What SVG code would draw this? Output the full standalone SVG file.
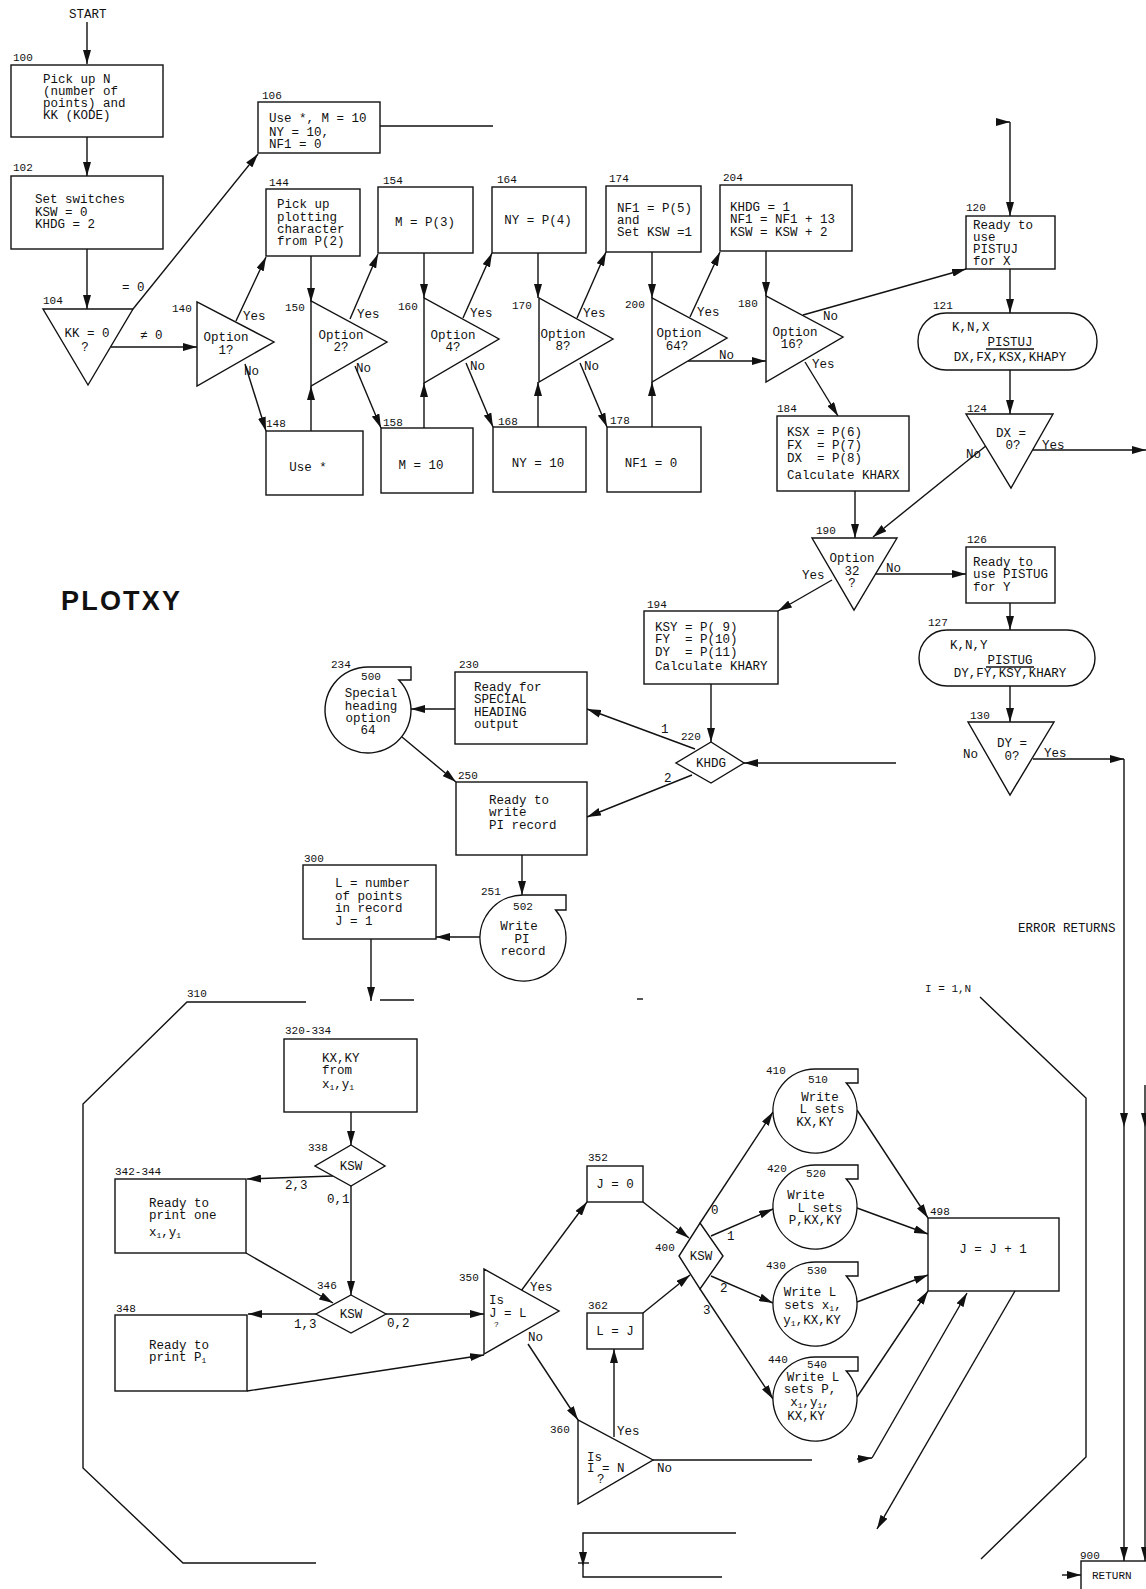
<svg xmlns="http://www.w3.org/2000/svg" width="1146" height="1589" viewBox="0 0 1146 1589">
<style>
.ln{stroke:#111;stroke-width:1.4;fill:none}
.sh{stroke:#111;stroke-width:1.4;fill:#fff}
.t{font-family:"Liberation Mono","DejaVu Sans Mono",monospace;font-size:12.5px;fill:#111;white-space:pre}
.lb{font-family:"Liberation Mono","DejaVu Sans Mono",monospace;font-size:11px;fill:#111}
.sm{font-family:"Liberation Mono","DejaVu Sans Mono",monospace;font-size:8px;fill:#111}
.c{text-anchor:middle}
.sub{font-size:8px}
.title{font-family:"Liberation Sans",Arial,sans-serif;font-size:27px;font-weight:bold;fill:#111}
</style>
<defs>
<marker id="a" viewBox="0 0 14 8" refX="14" refY="4" markerWidth="14" markerHeight="8" markerUnits="userSpaceOnUse" orient="auto">
<path d="M0,0 L14,4 L0,8 z" fill="#111"/>
</marker>
</defs>
<rect width="1146" height="1589" fill="#fff"/>

<text class="title" x="61" y="610" textLength="119" lengthAdjust="spacing">PLOTXY</text>
<text class="t" x="69" y="18">START</text>
<text class="t" x="1018" y="932">ERROR RETURNS</text>
<text class="lb" x="925" y="992">I = 1,N</text>

<g id="connectors" class="ln">
<line x1="87" y1="22" x2="87" y2="64" marker-end="url(#a)"/>
<line x1="87" y1="137" x2="87" y2="176" marker-end="url(#a)"/>
<line x1="87" y1="249" x2="87" y2="309" marker-end="url(#a)"/>
<line x1="133" y1="309" x2="258" y2="154" marker-end="url(#a)"/>
<line x1="111" y1="347" x2="197" y2="347" marker-end="url(#a)"/>
<line x1="380" y1="126" x2="493" y2="126"/>
<line x1="236" y1="321" x2="266" y2="257" marker-end="url(#a)"/>
<line x1="245" y1="364" x2="266" y2="431" marker-end="url(#a)"/>
<line x1="311" y1="256" x2="311" y2="302" marker-end="url(#a)"/>
<line x1="311" y1="431" x2="311" y2="386" marker-end="url(#a)"/>
<line x1="350" y1="319" x2="378" y2="254" marker-end="url(#a)"/>
<line x1="355" y1="366" x2="381" y2="428" marker-end="url(#a)"/>
<line x1="424" y1="253" x2="424" y2="298" marker-end="url(#a)"/>
<line x1="424" y1="428" x2="424" y2="383" marker-end="url(#a)"/>
<line x1="463" y1="318" x2="492" y2="253" marker-end="url(#a)"/>
<line x1="466" y1="363" x2="493" y2="427" marker-end="url(#a)"/>
<line x1="538" y1="253" x2="538" y2="298" marker-end="url(#a)"/>
<line x1="538" y1="427" x2="538" y2="382" marker-end="url(#a)"/>
<line x1="577" y1="318" x2="606" y2="252" marker-end="url(#a)"/>
<line x1="580" y1="363" x2="607" y2="427" marker-end="url(#a)"/>
<line x1="652" y1="252" x2="652" y2="298" marker-end="url(#a)"/>
<line x1="652" y1="427" x2="652" y2="382" marker-end="url(#a)"/>
<line x1="690" y1="317" x2="720" y2="252" marker-end="url(#a)"/>
<line x1="688" y1="361" x2="766" y2="361" marker-end="url(#a)"/>
<line x1="766" y1="251" x2="766" y2="296" marker-end="url(#a)"/>
<line x1="803" y1="315" x2="966" y2="269" marker-end="url(#a)"/>
<line x1="805" y1="362" x2="838" y2="416" marker-end="url(#a)"/>
<line x1="996" y1="122" x2="1010" y2="122" marker-end="url(#a)"/>
<line x1="1010" y1="122" x2="1010" y2="216" marker-end="url(#a)"/>
<line x1="1010" y1="269" x2="1010" y2="313" marker-end="url(#a)"/>
<line x1="1010" y1="370" x2="1010" y2="414" marker-end="url(#a)"/>
<line x1="1033" y1="450" x2="1146" y2="450" marker-end="url(#a)"/>
<line x1="987" y1="445" x2="873" y2="537" marker-end="url(#a)"/>
<line x1="855" y1="491" x2="855" y2="538" marker-end="url(#a)"/>
<line x1="875" y1="574" x2="966" y2="574" marker-end="url(#a)"/>
<line x1="832" y1="580" x2="778" y2="611" marker-end="url(#a)"/>
<line x1="1010" y1="603" x2="1010" y2="630" marker-end="url(#a)"/>
<line x1="1010" y1="686" x2="1010" y2="722" marker-end="url(#a)"/>
<line x1="1033" y1="759" x2="1124" y2="759" marker-end="url(#a)"/>
<line x1="1124" y1="759" x2="1124" y2="1127" marker-end="url(#a)"/>
<line x1="1124" y1="1127" x2="1124" y2="1561" marker-end="url(#a)"/>
<line x1="1145" y1="1085" x2="1145" y2="1127" marker-end="url(#a)"/>
<line x1="1145" y1="1127" x2="1145" y2="1561" marker-end="url(#a)"/>
<line x1="711" y1="684" x2="711" y2="742" marker-end="url(#a)"/>
<line x1="695" y1="749" x2="587" y2="709" marker-end="url(#a)"/>
<line x1="692" y1="775" x2="587" y2="817" marker-end="url(#a)"/>
<line x1="896" y1="763" x2="744" y2="763" marker-end="url(#a)"/>
<line x1="455" y1="709" x2="411" y2="709" marker-end="url(#a)"/>
<line x1="402" y1="737" x2="456" y2="782" marker-end="url(#a)"/>
<line x1="522" y1="855" x2="522" y2="895" marker-end="url(#a)"/>
<line x1="480" y1="937" x2="436" y2="937" marker-end="url(#a)"/>
<line x1="371" y1="939" x2="371" y2="1001" marker-end="url(#a)"/>
<line x1="351" y1="1112" x2="351" y2="1145" marker-end="url(#a)"/>
<line x1="333" y1="1176" x2="247" y2="1179" marker-end="url(#a)"/>
<line x1="351" y1="1186" x2="351" y2="1295" marker-end="url(#a)"/>
<line x1="246" y1="1253" x2="333" y2="1303" marker-end="url(#a)"/>
<line x1="316" y1="1314" x2="248" y2="1314" marker-end="url(#a)"/>
<line x1="386" y1="1314" x2="484" y2="1314" marker-end="url(#a)"/>
<line x1="247" y1="1391" x2="484" y2="1355" marker-end="url(#a)"/>
<line x1="521" y1="1291" x2="587" y2="1202" marker-end="url(#a)"/>
<line x1="528" y1="1344" x2="578" y2="1420" marker-end="url(#a)"/>
<line x1="614" y1="1437" x2="614" y2="1349" marker-end="url(#a)"/>
<line x1="653" y1="1460" x2="812" y2="1460"/>
<line x1="643" y1="1202" x2="689" y2="1238" marker-end="url(#a)"/>
<line x1="643" y1="1313" x2="690" y2="1275" marker-end="url(#a)"/>
<line x1="700" y1="1223" x2="773" y2="1112" marker-end="url(#a)"/>
<line x1="711" y1="1236" x2="773" y2="1209" marker-end="url(#a)"/>
<line x1="711" y1="1276" x2="773" y2="1303" marker-end="url(#a)"/>
<line x1="700" y1="1289" x2="773" y2="1399" marker-end="url(#a)"/>
<line x1="857" y1="1110" x2="928" y2="1218" marker-end="url(#a)"/>
<line x1="857" y1="1208" x2="928" y2="1234" marker-end="url(#a)"/>
<line x1="857" y1="1302" x2="928" y2="1275" marker-end="url(#a)"/>
<line x1="857" y1="1397" x2="928" y2="1291" marker-end="url(#a)"/>
<line x1="857" y1="1459" x2="872" y2="1458" marker-end="url(#a)"/>
<polyline points="872,1458 967,1293" marker-end="url(#a)"/>
<line x1="1015" y1="1291" x2="877" y2="1529" marker-end="url(#a)"/>
<polyline points="736,1533 583,1533 583,1566" marker-end="url(#a)"/>
<polyline points="583,1566 583,1577 722,1577"/>
<line x1="578" y1="1563" x2="589" y2="1563"/>
<line x1="1062" y1="1575" x2="1081" y2="1575" marker-end="url(#a)"/>
</g>

<g id="n310" class="ln">
<polyline points="306,1002 187,1002 83,1104 83,1468 183,1563 316,1563"/>
<line x1="380" y1="1000" x2="414" y2="1000"/>
<line x1="637" y1="999" x2="643" y2="999"/>
<polyline points="980,997 1086,1098 1086,1457 981,1559"/>
<text class="lb" x="187" y="997" stroke="none">310</text>
</g>

<g id="n100"><rect class="sh" x="11" y="65" width="152" height="72"/>
<text class="lb" x="13" y="61">100</text>
<text class="t" x="43" y="83">Pick up N</text><text class="t" x="43" y="95">(number of</text><text class="t" x="43" y="107">points) and</text><text class="t" x="43" y="119">KK (KODE)</text></g>

<g id="n102"><rect class="sh" x="11" y="176" width="152" height="73"/>
<text class="lb" x="13" y="171">102</text>
<text class="t" x="35" y="203">Set switches</text><text class="t" x="35" y="216">KSW = 0</text><text class="t" x="35" y="228">KHDG = 2</text></g>

<g id="n104"><polygon class="sh" points="43,309 133,309 88,385"/>
<text class="lb" x="43" y="304">104</text>
<text class="t c" x="87" y="337">KK = 0</text><text class="t c" x="85" y="351">?</text>
<text class="t" x="122" y="291">= 0</text><text class="t" x="140" y="339">≠ 0</text></g>

<g id="n106"><rect class="sh" x="258" y="102" width="122" height="51"/>
<text class="lb" x="262" y="99">106</text>
<text class="t" x="269" y="122">Use *, M = 10</text><text class="t" x="269" y="136">NY = 10,</text><text class="t" x="269" y="148">NF1 = 0</text></g>

<g id="n140"><polygon class="sh" points="197,302 197,386 274,342"/>
<text class="lb" x="172" y="312">140</text>
<text class="t c" x="226" y="341">Option</text><text class="t c" x="226" y="354">1?</text>
<text class="t" x="243" y="320">Yes</text><text class="t" x="244" y="375">No</text></g>

<g id="n144"><rect class="sh" x="266" y="189" width="94" height="67"/>
<text class="lb" x="269" y="186">144</text>
<text class="t" x="277" y="208">Pick up</text><text class="t" x="277" y="221">plotting</text><text class="t" x="277" y="233">character</text><text class="t" x="277" y="245">from P(2)</text></g>

<g id="n148"><rect class="sh" x="266" y="431" width="97" height="64"/>
<text class="lb" x="266" y="427">148</text>
<text class="t c" x="308" y="471">Use *</text></g>

<g id="n150"><polygon class="sh" points="311,301 311,386 387,342"/>
<text class="lb" x="285" y="311">150</text>
<text class="t c" x="341" y="339">Option</text><text class="t c" x="341" y="351">2?</text>
<text class="t" x="357" y="318">Yes</text><text class="t" x="356" y="372">No</text></g>

<g id="n154"><rect class="sh" x="378" y="187" width="95" height="66"/>
<text class="lb" x="383" y="184">154</text>
<text class="t c" x="425" y="226">M = P(3)</text></g>

<g id="n158"><rect class="sh" x="381" y="428" width="92" height="65"/>
<text class="lb" x="383" y="426">158</text>
<text class="t c" x="421" y="469">M = 10</text></g>

<g id="n160"><polygon class="sh" points="424,298 424,383 499,339"/>
<text class="lb" x="398" y="310">160</text>
<text class="t c" x="453" y="339">Option</text><text class="t c" x="453" y="351">4?</text>
<text class="t" x="470" y="317">Yes</text><text class="t" x="470" y="370">No</text></g>

<g id="n164"><rect class="sh" x="492" y="187" width="94" height="66"/>
<text class="lb" x="497" y="183">164</text>
<text class="t c" x="538" y="224">NY = P(4)</text></g>

<g id="n168"><rect class="sh" x="493" y="427" width="93" height="65"/>
<text class="lb" x="498" y="425">168</text>
<text class="t c" x="538" y="467">NY = 10</text></g>

<g id="n170"><polygon class="sh" points="539,298 539,382 613,339"/>
<text class="lb" x="512" y="309">170</text>
<text class="t c" x="563" y="338">Option</text><text class="t c" x="563" y="350">8?</text>
<text class="t" x="583" y="317">Yes</text><text class="t" x="584" y="370">No</text></g>

<g id="n174"><rect class="sh" x="606" y="186" width="95" height="66"/>
<text class="lb" x="609" y="182">174</text>
<text class="t" x="617" y="212">NF1 = P(5)</text><text class="t" x="617" y="224">and</text><text class="t" x="617" y="236">Set KSW =1</text></g>

<g id="n178"><rect class="sh" x="607" y="427" width="94" height="65"/>
<text class="lb" x="610" y="424">178</text>
<text class="t c" x="651" y="467">NF1 = 0</text></g>

<g id="n200"><polygon class="sh" points="652,298 652,382 727,338"/>
<text class="lb" x="625" y="308">200</text>
<text class="t c" x="679" y="337">Option</text><text class="t c" x="677" y="350">64?</text>
<text class="t" x="697" y="316">Yes</text><text class="t" x="719" y="359">No</text></g>

<g id="n204"><rect class="sh" x="720" y="185" width="132" height="66"/>
<text class="lb" x="723" y="181">204</text>
<text class="t" x="730" y="211">KHDG = 1</text><text class="t" x="730" y="223">NF1 = NF1 + 13</text><text class="t" x="730" y="236">KSW = KSW + 2</text></g>

<g id="n180"><polygon class="sh" points="766,296 766,382 843,337"/>
<text class="lb" x="738" y="307">180</text>
<text class="t c" x="795" y="336">Option</text><text class="t c" x="792" y="348">16?</text>
<text class="t" x="823" y="320">No</text><text class="t" x="812" y="368">Yes</text></g>

<g id="n184"><rect class="sh" x="777" y="416" width="132" height="75"/>
<text class="lb" x="777" y="412">184</text>
<text class="t" x="787" y="436" xml:space="preserve">KSX = P(6)</text><text class="t" x="787" y="449" xml:space="preserve">FX  = P(7)</text><text class="t" x="787" y="462" xml:space="preserve">DX  = P(8)</text><text class="t" x="787" y="479">Calculate KHARX</text></g>

<g id="n120"><rect class="sh" x="966" y="216" width="89" height="53"/>
<text class="lb" x="966" y="211">120</text>
<text class="t" x="973" y="229">Ready to</text><text class="t" x="973" y="241">use</text><text class="t" x="973" y="253">PISTUJ</text><text class="t" x="973" y="265">for X</text></g>

<g id="n121"><rect class="sh" x="918" y="313" width="179" height="57" rx="28"/>
<text class="lb" x="933" y="309">121</text>
<text class="t" x="952" y="331">K,N,X</text><text class="t c" x="1010" y="346">PISTUJ</text>
<line class="ln" x1="986" y1="349" x2="1034" y2="349"/>
<text class="t c" x="1010" y="361">DX,FX,KSX,KHAPY</text></g>

<g id="n124"><polygon class="sh" points="966,414 1053,414 1011,488"/>
<text class="lb" x="967" y="412">124</text>
<text class="t c" x="1011" y="437">DX =</text><text class="t c" x="1013" y="449">0?</text>
<text class="t" x="1042" y="449">Yes</text><text class="t" x="966" y="458">No</text></g>

<g id="n190"><polygon class="sh" points="812,538 897,538 854,610"/>
<text class="lb" x="816" y="534">190</text>
<text class="t c" x="852" y="562">Option</text><text class="t c" x="852" y="575">32</text><text class="t c" x="852" y="587">?</text>
<text class="t" x="886" y="572">No</text><text class="t" x="802" y="579">Yes</text></g>

<g id="n126"><rect class="sh" x="966" y="547" width="89" height="56"/>
<text class="lb" x="967" y="543">126</text>
<text class="t" x="973" y="566">Ready to</text><text class="t" x="973" y="578">use PISTUG</text><text class="t" x="973" y="591">for Y</text></g>

<g id="n127"><rect class="sh" x="919" y="630" width="176" height="56" rx="28"/>
<text class="lb" x="928" y="626">127</text>
<text class="t" x="950" y="649">K,N,Y</text><text class="t c" x="1010" y="664">PISTUG</text>
<line class="ln" x1="986" y1="667" x2="1034" y2="667"/>
<text class="t c" x="1010" y="677">DY,FY,KSY,KHARY</text></g>

<g id="n130"><polygon class="sh" points="968,722 1054,722 1010,795"/>
<text class="lb" x="970" y="719">130</text>
<text class="t c" x="1012" y="747">DY =</text><text class="t c" x="1012" y="760">0?</text>
<text class="t" x="963" y="758">No</text><text class="t" x="1044" y="757">Yes</text></g>

<g id="n194"><rect class="sh" x="644" y="611" width="134" height="73"/>
<text class="lb" x="647" y="608">194</text>
<text class="t" x="655" y="631" xml:space="preserve">KSY = P( 9)</text><text class="t" x="655" y="643" xml:space="preserve">FY  = P(10)</text><text class="t" x="655" y="656" xml:space="preserve">DY  = P(11)</text><text class="t" x="655" y="670">Calculate KHARY</text></g>

<g id="n220"><polygon class="sh" points="711,742 744,763 711,783 676,763"/>
<text class="lb" x="681" y="740">220</text>
<text class="t c" x="711" y="767">KHDG</text>
<text class="t" x="661" y="733">1</text><text class="t" x="664" y="782">2</text></g>

<g id="n230"><rect class="sh" x="455" y="672" width="132" height="72"/>
<text class="lb" x="459" y="668">230</text>
<text class="t" x="474" y="691">Ready for</text><text class="t" x="474" y="703">SPECIAL</text><text class="t" x="474" y="716">HEADING</text><text class="t" x="474" y="728">output</text></g>

<g id="n234"><path class="sh" d="M368,667 L411,667 L411,680 L398.8,680 A43,43 0 1 1 368,667 Z"/>
<text class="lb" x="331" y="668">234</text>
<text class="lb c" x="371" y="680">500</text>
<text class="t c" x="371" y="697">Special</text><text class="t c" x="371" y="710">heading</text><text class="t c" x="368" y="722">option</text><text class="t c" x="368" y="734">64</text></g>

<g id="n250"><rect class="sh" x="456" y="782" width="131" height="73"/>
<text class="lb" x="458" y="779">250</text>
<text class="t" x="489" y="804">Ready to</text><text class="t" x="489" y="816">write</text><text class="t" x="489" y="829">PI record</text></g>

<g id="n251"><path class="sh" d="M523,895 L566,895 L566,910 L555.6,910 A43,43 0 1 1 523,895 Z"/>
<text class="lb" x="481" y="895">251</text>
<text class="lb c" x="523" y="910">502</text>
<text class="t c" x="519" y="930">Write</text><text class="t c" x="522" y="943">PI</text><text class="t c" x="523" y="955">record</text></g>

<g id="n300"><rect class="sh" x="303" y="865" width="133" height="74"/>
<text class="lb" x="304" y="862">300</text>
<text class="t" x="335" y="887">L = number</text><text class="t" x="335" y="900">of points</text><text class="t" x="335" y="912">in record</text><text class="t" x="335" y="925">J = 1</text></g>

<g id="n320"><rect class="sh" x="284" y="1039" width="133" height="73"/>
<text class="lb" x="285" y="1034">320-334</text>
<text class="t" x="322" y="1062">KX,KY</text><text class="t" x="322" y="1074">from</text>
<text class="t" x="322" y="1088">x<tspan class="sub" dy="2">1</tspan><tspan dy="-2">,y</tspan><tspan class="sub" dy="2">1</tspan></text></g>

<g id="n338"><polygon class="sh" points="351,1145 385,1166 351,1186 315,1166"/>
<text class="lb" x="308" y="1151">338</text>
<text class="t c" x="351" y="1170">KSW</text>
<text class="t" x="285" y="1189">2,3</text><text class="t" x="327" y="1203">0,1</text></g>

<g id="n342"><rect class="sh" x="115" y="1179" width="131" height="74"/>
<text class="lb" x="115" y="1175">342-344</text>
<text class="t" x="149" y="1207">Ready to</text><text class="t" x="149" y="1219">print one</text>
<text class="t" x="149" y="1236">x<tspan class="sub" dy="2">1</tspan><tspan dy="-2">,y</tspan><tspan class="sub" dy="2">1</tspan></text></g>

<g id="n346"><polygon class="sh" points="351,1295 386,1314 351,1333 316,1314"/>
<text class="lb" x="317" y="1289">346</text>
<text class="t c" x="351" y="1318">KSW</text>
<text class="t" x="294" y="1328">1,3</text><text class="t" x="387" y="1327">0,2</text></g>

<g id="n348"><rect class="sh" x="115" y="1315" width="132" height="76"/>
<text class="lb" x="116" y="1312">348</text>
<text class="t" x="149" y="1349">Ready to</text>
<text class="t" x="149" y="1361">print P<tspan class="sub" dy="2">1</tspan></text></g>

<g id="n350"><polygon class="sh" points="484,1269 484,1354 559,1311"/>
<text class="lb" x="459" y="1281">350</text>
<text class="t" x="489" y="1304">Is</text><text class="t" x="489" y="1317">J = L</text><text class="sm" x="494" y="1327">?</text>
<text class="t" x="530" y="1291">Yes</text><text class="t" x="528" y="1341">No</text></g>

<g id="n352"><rect class="sh" x="587" y="1166" width="56" height="36"/>
<text class="lb" x="588" y="1161">352</text>
<text class="t c" x="615" y="1188">J = 0</text></g>

<g id="n362"><rect class="sh" x="587" y="1313" width="56" height="36"/>
<text class="lb" x="588" y="1309">362</text>
<text class="t c" x="615" y="1335">L = J</text></g>

<g id="n360"><polygon class="sh" points="578,1420 578,1504 653,1460"/>
<text class="lb" x="550" y="1433">360</text>
<text class="t" x="587" y="1461">Is</text><text class="t" x="587" y="1472">I = N</text><text class="t" x="597" y="1483">?</text>
<text class="t" x="617" y="1435">Yes</text><text class="t" x="657" y="1472">No</text></g>

<g id="n400"><polygon class="sh" points="700,1223 723,1256 700,1289 679,1256"/>
<text class="lb" x="655" y="1251">400</text>
<text class="t c" x="701" y="1260">KSW</text>
<text class="t" x="711" y="1214">0</text><text class="t" x="727" y="1240">1</text><text class="t" x="720" y="1292">2</text><text class="t" x="703" y="1314">3</text></g>

<g id="n410"><path class="sh" d="M815,1069 L858,1069 L858,1083 L846.3,1083 A42,42 0 1 1 815,1069 Z"/>
<text class="lb" x="766" y="1074">410</text>
<text class="lb c" x="818" y="1083">510</text>
<text class="t c" x="820" y="1101">Write</text><text class="t c" x="822" y="1113">L sets</text><text class="t c" x="815" y="1126">KX,KY</text></g>

<g id="n420"><path class="sh" d="M815,1165 L858,1165 L858,1179 L846.3,1179 A42,42 0 1 1 815,1165 Z"/>
<text class="lb" x="767" y="1172">420</text>
<text class="lb c" x="816" y="1177">520</text>
<text class="t c" x="806" y="1199">Write</text><text class="t c" x="820" y="1212">L sets</text><text class="t c" x="815" y="1224">P,KX,KY</text></g>

<g id="n430"><path class="sh" d="M815,1262 L858,1262 L858,1276 L846.3,1276 A42,42 0 1 1 815,1262 Z"/>
<text class="lb" x="766" y="1269">430</text>
<text class="lb c" x="817" y="1274">530</text>
<text class="t c" x="810" y="1296">Write L</text>
<text class="t c" x="813" y="1309">sets x<tspan class="sub" dy="1.5">1</tspan><tspan dy="-1.5">,</tspan></text>
<text class="t c" x="812" y="1324">y<tspan class="sub" dy="1.5">1</tspan><tspan dy="-1.5">,KX,KY</tspan></text></g>

<g id="n440"><path class="sh" d="M815,1357 L858,1357 L858,1371 L846.3,1371 A42,42 0 1 1 815,1357 Z"/>
<text class="lb" x="768" y="1363">440</text>
<text class="lb c" x="817" y="1368">540</text>
<text class="t c" x="813" y="1381">Write L</text><text class="t c" x="810" y="1393">sets P,</text>
<text class="t c" x="810" y="1406">x<tspan class="sub" dy="1.5">1</tspan><tspan dy="-1.5">,y</tspan><tspan class="sub" dy="1.5">1</tspan><tspan dy="-1.5">,</tspan></text>
<text class="t c" x="806" y="1420">KX,KY</text></g>

<g id="n498"><rect class="sh" x="928" y="1218" width="131" height="73"/>
<text class="lb" x="930" y="1215">498</text>
<text class="t c" x="993" y="1253">J = J + 1</text></g>

<g id="n900"><rect class="sh" x="1081" y="1561" width="70" height="40"/>
<text class="lb" x="1080" y="1559">900</text>
<text class="lb" x="1092" y="1579">RETURN</text></g>
</svg>
